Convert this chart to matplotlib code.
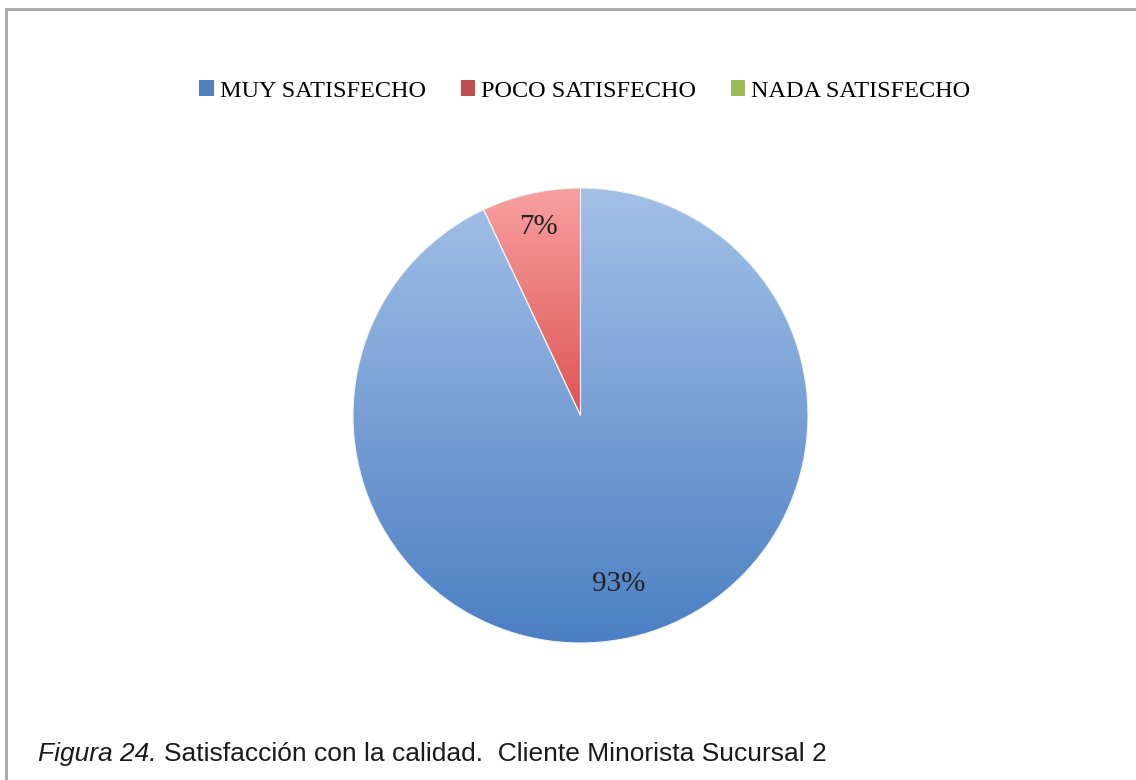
import matplotlib.pyplot as plt
import numpy as np
from matplotlib.colors import LinearSegmentedColormap
from matplotlib.patches import Rectangle

# Satisfacción con la calidad - Cliente Minorista Sucursal 2
categories = ['MUY SATISFECHO', 'POCO SATISFECHO', 'NADA SATISFECHO']
percentages = [93, 7, 0]
# (top colour, bottom colour) of each slice's gradient
gradients = [('#a3c0e7', '#4b7fc3'), ('#f7a0a0', '#df5454'), ('#c8de8c', '#9bbb59')]
legend_colors = ['#4f81bd', '#c0504d', '#9bbb59']

fig = plt.figure(figsize=(11.36, 7.8), dpi=100)
W, H = 1136, 780

# outer frame (runs off the right and bottom edges)
fig.patches.append(Rectangle((6 / W, -0.1), 1.2, 1 - 9 / H + 0.1,
                             transform=fig.transFigure, fill=False,
                             edgecolor='#a6a6a6', linewidth=2))

ax = fig.add_axes([353 / W, 137 / H, 455 / W, 455 / H])
wedges, _ = ax.pie(percentages, startangle=90, counterclock=False,
                   colors=['none'] * 3, radius=1,
                   wedgeprops=dict(edgecolor='none'))

for w, (c_top, c_bot), pct in zip(wedges, gradients, percentages):
    if pct == 0:
        continue
    verts = w.get_path().vertices
    x0, x1 = verts[:, 0].min(), verts[:, 0].max()
    y0, y1 = verts[:, 1].min(), verts[:, 1].max()
    cmap = LinearSegmentedColormap.from_list('g', [c_bot, c_top])
    grad = np.linspace(0, 1, 256).reshape(-1, 1)
    im = ax.imshow(grad, cmap=cmap, extent=(x0, x1, y0, y1), origin='lower',
                   aspect='auto', zorder=1)
    im.set_clip_path(w)
    w.set_facecolor('none')
    w.set_edgecolor('#f2f2f2')
    w.set_linewidth(0.8)
    w.set_zorder(2)

# percentage labels at each slice's mid angle
for w, pct in zip(wedges, percentages):
    if pct == 0:
        continue
    mid = np.deg2rad((w.theta1 + w.theta2) / 2)
    r = 0.85 if pct < 50 else 0.76
    ax.text(r * np.cos(mid), r * np.sin(mid), f'{pct}%', ha='center', va='center',
            fontsize=21, family='Liberation Serif', color='#222222', zorder=3)

ax.set_xlim(-1, 1)
ax.set_ylim(-1, 1)
ax.set_aspect('equal')
ax.axis('off')

# legend row along the top
handles = [Rectangle((0, 0), 1, 1, facecolor=c, edgecolor='none') for c in legend_colors]
fig.legend(handles, categories, loc='center', bbox_to_anchor=(0.515, 1 - 91 / H),
           ncol=3, frameon=False, handlelength=0.58, handleheight=0.58,
           handletextpad=0.25, columnspacing=1.45,
           prop=dict(family='Liberation Serif', size=17.5))

# figure caption: italic figure number followed by the title
fig.canvas.draw()
renderer = fig.canvas.get_renderer()
num = fig.text(38 / W, 1 - 754 / H, 'Figura 24. ', style='italic', fontsize=19,
               family='Liberation Sans', va='center', ha='left', color='#1a1a1a')
x_end = num.get_window_extent(renderer).x1
fig.text(x_end / W, 1 - 754 / H, 'Satisfacción con la calidad.  Cliente Minorista Sucursal 2',
         fontsize=19, family='Liberation Sans', va='center', ha='left', color='#1a1a1a')

fig.savefig('out.png', dpi=100, facecolor='white')
